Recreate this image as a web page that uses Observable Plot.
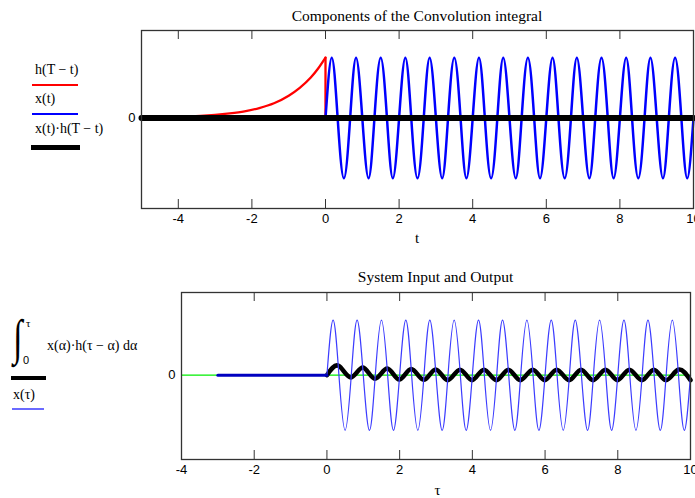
<!DOCTYPE html>
<html><head><meta charset="utf-8">
<script src="https://cdn.jsdelivr.net/npm/d3@7"></script>
<script src="https://cdn.jsdelivr.net/npm/@observablehq/plot@0.6"></script>
<style>
body{margin:0;background:#fff;}
#c{position:relative;width:695px;height:498px;overflow:hidden;font-family:"Liberation Serif",serif;background:#fff;}
.t{position:absolute;white-space:nowrap;color:#000;line-height:1;}
.ln{position:absolute;}
svg{position:absolute;left:0;}
</style></head><body>
<div id="c">
  <div class="t" style="left:417px;top:7.5px;font-size:15.5px;transform:translateX(-50%)">Components of the Convolution integral</div>
  <div class="t" style="left:417px;top:230.5px;font-size:15px;transform:translateX(-50%)">t</div>
  <div class="t" style="left:435.5px;top:269px;font-size:15.5px;transform:translateX(-50%)">System Input and Output</div>
  <div class="t" style="left:437.5px;top:482.5px;font-size:15px;transform:translateX(-50%)">τ</div>

  <div class="t" style="left:35px;top:63px;font-size:14px">h(T − t)</div>
  <div class="ln" style="left:32px;top:83.5px;width:46px;height:2px;background:#ff0000"></div>
  <div class="t" style="left:35px;top:92px;font-size:14px">x(t)</div>
  <div class="ln" style="left:32px;top:113px;width:46px;height:2px;background:#0000ff"></div>
  <div class="t" style="left:35px;top:121.5px;font-size:14px">x(t)·h(T − t)</div>
  <div class="ln" style="left:31px;top:145px;width:49px;height:5px;background:#000"></div>

  <div class="t" style="left:13px;top:313px;width:9px;overflow:visible;font-size:34px;transform:scaleY(1.45);transform-origin:0 0">∫</div>
  <div class="t" style="left:26px;top:318px;font-size:11px">τ</div>
  <div class="t" style="left:23px;top:355px;font-size:11px;font-family:'Liberation Sans',sans-serif">0</div>
  <div class="t" style="left:47px;top:338.5px;font-size:14px">x(α)·h(τ − α) dα</div>
  <div class="ln" style="left:11px;top:376px;width:35px;height:4px;background:#000"></div>
  <div class="t" style="left:13px;top:388px;font-size:14px">x(τ)</div>
  <div class="ln" style="left:12px;top:408px;width:32px;height:2px;background:#6a6aff"></div>
</div>
<script>
// ---- data ----
const xTicksTop = [-4, -2, 0, 2, 4, 6, 8, 10];
const xTicksBottom = [-4, -2, 0, 2, 4, 6, 8, 10];
const yTicks = [0];

// h(T - t)
const hT = [-3.7, -3.4, -3.0, -2.6, -2.2, -1.8, -1.4, -1.0, -0.7, -0.4, -0.2, 0];
const hV = [0.03, 0.035, 0.05, 0.075, 0.11, 0.165, 0.245, 0.37, 0.5, 0.67, 0.82, 1.0];
const hJumpT = [0, 0];
const hJumpV = [1, 0];

// x(t), read at its peaks, troughs and zero crossings
const xT = [0,0.17,0.33,0.5,0.67,0.83,1,1.17,1.33,1.5,1.67,1.83,2,2.17,2.33,2.5,2.67,2.83,3,3.17,3.33,3.5,3.67,3.83,4,4.17,4.33,4.5,4.67,4.83,5,5.17,5.33,5.5,5.67,5.83,6,6.17,6.33,6.5,6.67,6.83,7,7.17,7.33,7.5,7.67,7.83,8,8.17,8.33,8.5,8.67,8.83,9,9.17,9.33,9.5,9.67,9.83,10];
const xV = [0,1,0,-1,0,1,0,-1,0,1,0,-1,0,1,0,-1,0,1,0,-1,0,1,0,-1,0,1,0,-1,0,1,0,-1,0,1,0,-1,0,1,0,-1,0,1,0,-1,0,1,0,-1,0,1,0,-1,0,1,0,-1,0,1,0,-1,0];

// x(t)·h(T - t)
const prodT = [-5, 10];
const prodV = [0, 0];

// bottom: x(τ) before the input starts
const xPreT = [-3, 0];
const xPreV = [0, 0];

// bottom: convolution output, read at its peaks and troughs
const yT = [0,0.32,0.66,0.99,1.32,1.66,1.99,2.32,2.66,2.99,3.32,3.66,3.99,4.32,4.66,4.99,5.32,5.66,5.99,6.32,6.66,6.99,7.32,7.66,7.99,8.32,8.66,8.99,9.32,9.66,10];
const yV = [0,0.17,-0.04,0.14,-0.065,0.12,-0.08,0.11,-0.085,0.105,-0.09,0.1,-0.09,0.1,-0.09,0.1,-0.09,0.1,-0.09,0.1,-0.09,0.1,-0.09,0.1,-0.09,0.1,-0.09,0.1,-0.09,0.1,-0.09];

const zeroLine = [0];

const rows = (ts, vs) => ts.map((t, i) => ({t, v: vs[i]}));
const fmt = d => String(d);
const axisStyle = {fontFamily: "'Liberation Sans', Arial, sans-serif", fontSize: "13px", background: "transparent", overflow: "visible"};

const topPlot = Plot.plot({
  width: 695, height: 250,
  marginLeft: 141, marginRight: 2, marginTop: 30, marginBottom: 42,
  x: {domain: [-5, 10]},
  y: {domain: [-1.5, 1.45]},
  style: axisStyle,
  marks: [
    Plot.line(rows(hT, hV), {x: "t", y: "v", stroke: "#ff0000", strokeWidth: 2.3, curve: "monotone-x"}),
    Plot.line(rows(hJumpT, hJumpV), {x: "t", y: "v", stroke: "#ff0000", strokeWidth: 2.3}),
    Plot.line(rows(xT, xV), {x: "t", y: "v", stroke: "#0000ff", strokeWidth: 2.5, curve: "natural"}),
    Plot.line(rows(prodT, prodV), {x: "t", y: "v", stroke: "#000", strokeWidth: 6}),
    Plot.ruleX(xTicksTop, {insetTop: 169, stroke: "#333"}),
    Plot.ruleX(xTicksTop, {insetBottom: 169, stroke: "#333"}),
    Plot.axisX(xTicksTop, {tickSize: 0, tickPadding: 5, tickFormat: fmt, label: null}),
    Plot.axisY(yTicks, {tickSize: 0, tickPadding: 6, tickFormat: fmt, label: null}),
    Plot.frame({stroke: "#333", strokeWidth: 1.3})
  ]
});
topPlot.style.top = "0px";

const botPlot = Plot.plot({
  width: 695, height: 248,
  marginLeft: 181, marginRight: 5, marginTop: 42, marginBottom: 39,
  x: {domain: [-4, 10]},
  y: {domain: [-1.53, 1.5]},
  style: axisStyle,
  marks: [
    Plot.ruleY(zeroLine, {stroke: "#00ee00", strokeWidth: 1.2}),
    Plot.line(rows(yT, yV), {x: "t", y: "v", stroke: "#000", strokeWidth: 4.5, curve: "natural"}),
    Plot.line(rows(xT, xV), {x: "t", y: "v", stroke: "#3c3cff", strokeWidth: 1.2, curve: "natural"}),
    Plot.line(rows(xPreT, xPreV), {x: "t", y: "v", stroke: "#0000c0", strokeWidth: 3}),
    Plot.ruleX(xTicksBottom, {insetTop: 158, stroke: "#333"}),
    Plot.ruleX(xTicksBottom, {insetBottom: 158, stroke: "#333"}),
    Plot.axisX(xTicksBottom, {tickSize: 0, tickPadding: 5, tickFormat: fmt, label: null}),
    Plot.axisY(yTicks, {tickSize: 0, tickPadding: 6, tickFormat: fmt, label: null}),
    Plot.frame({stroke: "#333", strokeWidth: 1.3})
  ]
});
botPlot.style.top = "250px";

const c = document.getElementById("c");
c.appendChild(topPlot);
c.appendChild(botPlot);
</script>
</body></html>
